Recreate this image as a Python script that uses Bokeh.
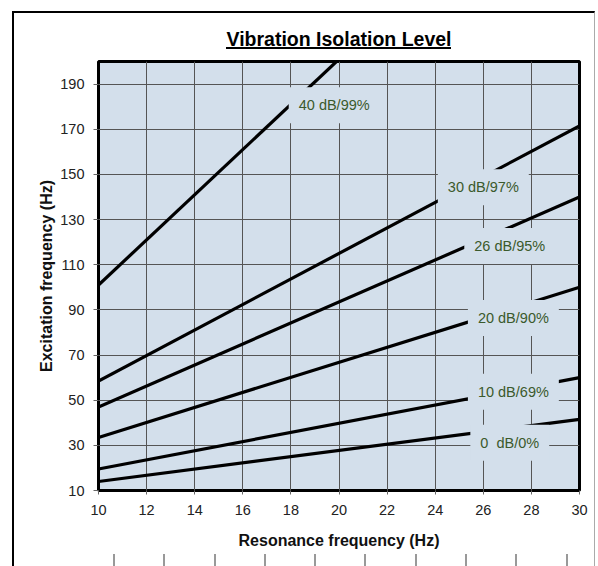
from bokeh.plotting import figure
from bokeh.models import Range1d, Label, FixedTicker, InlineStyleSheet
from bokeh.embed import file_html
from bokeh.resources import INLINE

# ---- data ----
res_40 = [10, 20]
exc_40 = [101, 201]
res = [10, 30]
exc_30 = [58.5, 171.5]
exc_26 = [47, 140]
exc_20 = [33.5, 100]
exc_10 = [19.5, 60]
exc_0 = [14, 41.5]

line_labels = ["40 dB/99%", "30 dB/97%", "26 dB/95%", "20 dB/90%", "10 dB/69%", "0 \u00a0dB/0%"]
label_x = [19.8, 26.0, 27.1, 27.25, 27.25, 27.1]
label_y = [180.6, 144.3, 118.3, 86.4, 53.7, 31.2]

x_ticks = [10, 12, 14, 16, 18, 20, 22, 24, 26, 28, 30]
y_ticks = [10, 30, 50, 70, 90, 110, 130, 150, 170, 190]

FONT = "Liberation Sans"
BG = "#d3dfeb"

# page decoration (document frame, title underline, ruler of the next figure)
deco_css = """
:host { position: relative; }
:host::before {
  content: ""; position: absolute; left: 12px; top: 11px; width: 582.5px; height: 555px;
  box-sizing: border-box; border-left: 2.5px solid #000; border-top: 2.5px solid #000;
  border-right: 1px solid #aaaaaa; pointer-events: none; z-index: 10;
}
:host::after {
  content: ""; position: absolute; left: 0; top: 0; width: 598px; height: 566px;
  pointer-events: none; z-index: 10;
  background-image: linear-gradient(#000, #000),
    repeating-linear-gradient(to right, #999 0px, #999 2px, transparent 2px, transparent 50.3px);
  background-size: 225px 2px, 456px 12px;
  background-position: 226px 47px, 113px 554px;
  background-repeat: no-repeat, no-repeat;
}
"""

p = figure(width=598, height=566, output_backend="svg", toolbar_location=None,
           x_range=Range1d(10, 30), y_range=Range1d(10, 200),
           min_border_left=98, min_border_right=19, min_border_top=61, min_border_bottom=76,
           stylesheets=[InlineStyleSheet(css=deco_css)])
p.background_fill_color = BG
p.border_fill_color = "white"
p.outline_line_color = "black"
p.outline_line_width = 3

p.title.text = "Vibration Isolation Level"
p.title.align = "center"
p.title.text_font = FONT
p.title.text_font_size = "19.5px"
p.title.text_font_style = "bold"
p.title.text_color = "black"
p.title.standoff = 23

for ax in (p.xaxis[0], p.yaxis[0]):
    ax.major_label_text_font = FONT
    ax.major_label_text_font_size = "14.5px"
    ax.major_label_text_color = "#222222"
    ax.axis_label_text_font = FONT
    ax.axis_label_text_font_style = "bold"
    ax.axis_label_text_font_size = "16px"
    ax.axis_label_text_color = "#111111"
    ax.minor_tick_line_color = None
    ax.major_tick_in = 0
    ax.major_tick_line_color = "#666666"
    ax.axis_line_color = None

p.xaxis.ticker = FixedTicker(ticks=x_ticks)
p.yaxis.ticker = FixedTicker(ticks=y_ticks)
p.xaxis.axis_label = "Resonance frequency (Hz)"
p.yaxis.axis_label = "Excitation frequency (Hz)"
p.xaxis.major_tick_out = 4
p.xaxis.major_label_standoff = 10
p.xaxis.axis_label_standoff = 14
p.yaxis.major_tick_out = 5
p.yaxis.major_label_standoff = 9
p.yaxis.axis_label_standoff = 2

p.xgrid.ticker = FixedTicker(ticks=x_ticks)
p.ygrid.ticker = FixedTicker(ticks=y_ticks)
for g in (p.xgrid[0], p.ygrid[0]):
    g.grid_line_color = "#555555"
    g.grid_line_width = 1
    g.grid_line_alpha = 1

p.line(res_40, exc_40, line_color="black", line_width=3.2)
for ys in (exc_30, exc_26, exc_20, exc_10, exc_0):
    p.line(res, ys, line_color="black", line_width=3.2)

for txt, lx, ly in zip(line_labels, label_x, label_y):
    p.add_layout(Label(x=lx, y=ly, text=txt, text_align="center", text_baseline="middle",
                       text_font=FONT, text_font_size="14.5px", text_color="#3b5a2c",
                       background_fill_color=BG, padding=10))

open("out.html", "w").write(file_html(p, INLINE))
